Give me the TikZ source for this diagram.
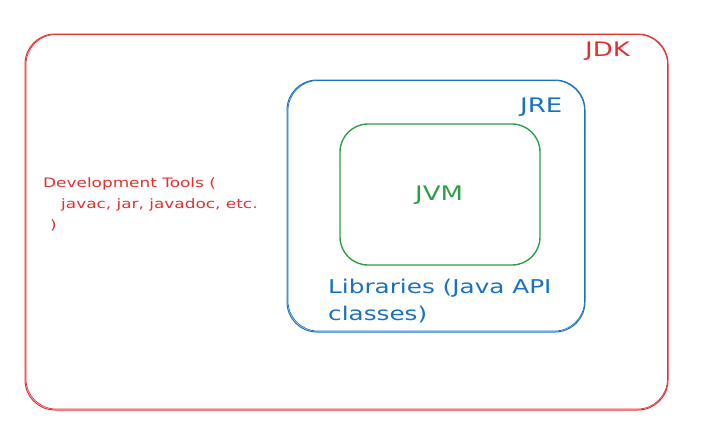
\documentclass[tikz,border=0pt]{standalone}
\usepackage{fontspec}
\setmainfont{DejaVu Sans}
\newfontfamily\virfont[FakeStretch=1.3]{DejaVu Sans}
\definecolor{exred}{HTML}{E03131}
\definecolor{exblue}{HTML}{1971C2}
\definecolor{exgreen}{HTML}{2F9E44}
\begin{document}
\begin{tikzpicture}[x=1pt,y=-1pt,
  box/.style={draw, line width=1pt, inner sep=0pt, rounded corners=#1},
  box/.default=30pt,
  lbl/.style={anchor=base west, inner sep=0pt, font=\virfont\fontsize{20}{24}\selectfont},
  txt/.style={anchor=base west, inner sep=0pt, align=left}]
\useasboundingbox (0,0) rectangle (709,437);
% JDK
\node[box, draw=exred, minimum width=643pt, minimum height=376pt] (jdk) at (346.5,222) {};
\draw[exred, line width=0.7pt, rounded corners=30pt] ([shift={(1.5pt,-1pt)}]jdk.north west) rectangle ([shift={(-1pt,1.5pt)}]jdk.south east);
% JRE
\node[box, draw=exblue, minimum width=298pt, minimum height=252pt] (jre) at (436,206) {};
\draw[exblue, line width=0.7pt, rounded corners=30pt] ([shift={(1.5pt,-1pt)}]jre.north west) rectangle ([shift={(-1pt,1.5pt)}]jre.south east);
% JVM
\node[box=28pt, draw=exgreen, line width=1.4pt, minimum width=200pt, minimum height=141pt] (jvm) at (440,194.5) {};
% labels
\node[lbl, text=exred] (jdkl) at (585,56) {JDK};
\node[lbl, text=exblue] (jrel) at (520,112) {JRE};
\node[lbl, text=exgreen] (jvml) at (415,200) {JVM};
\node[txt, text=exred, font=\virfont\fontsize{13}{21}\selectfont] (dev) at (43,229)
  {Development Tools (\\\hspace{18pt}javac, jar, javadoc, etc.\\\hspace{7pt})};
\node[txt, text=exblue, font=\virfont\fontsize{19}{27}\selectfont] (lib) at (328,320)
  {Libraries (Java API\\classes)};
\end{tikzpicture}
\end{document}
